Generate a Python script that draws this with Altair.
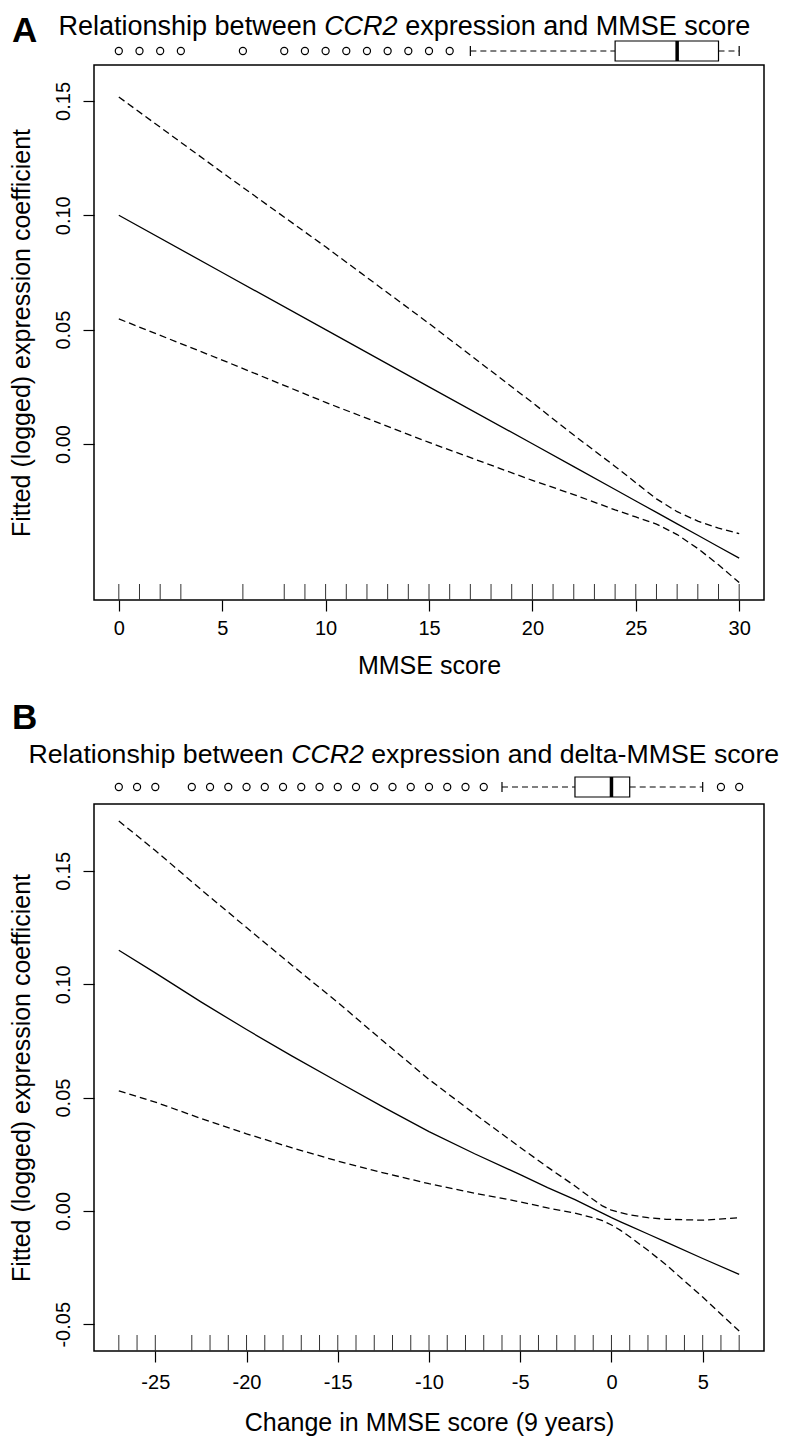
import altair as alt
import pandas as pd

FONT = "Liberation Sans"

# ---------------- Panel A : MMSE score ----------------
a_x     = [0, 5, 10, 15, 20, 22, 24, 25, 26, 27, 28, 29, 30]
a_fit   = [0.1000, 0.0750, 0.0500, 0.0250, 0.0001, -0.0099, -0.0199, -0.0249, -0.0299, -0.0349, -0.0399, -0.0449, -0.0499]
a_upper = [0.1517, 0.1187, 0.0862, 0.0527, 0.0181, 0.0039, -0.0098, -0.0169, -0.0240, -0.0296, -0.0337, -0.0368, -0.0392]
a_lower = [0.0547, 0.0367, 0.0182, 0.0007, -0.0159, -0.0221, -0.0288, -0.0319, -0.0350, -0.0396, -0.0457, -0.0528, -0.0606]
a_rug = [0, 1, 2, 3, 6, 8, 9, 10, 11, 12, 13, 14, 15, 16, 17, 18, 19, 20,
         21, 22, 23, 24, 25, 26, 27, 28, 29, 30]
a_outliers = [0, 1, 2, 3, 6, 8, 9, 10, 11, 12, 13, 14, 15, 16]
a_box = [17, 24, 27, 29, 30]          # whisker low, Q1, median, Q3, whisker high
a_xticks = [0, 5, 10, 15, 20, 25, 30]
a_yticks = [0.0, 0.05, 0.10, 0.15]

# ---------------- Panel B : change in MMSE ----------------
b_x     = [-27, -25, -22.5, -20, -17.5, -15, -12.5, -10, -7.5, -5, -3.5, -2, -1, -0.5,
           0, 0.5, 1, 2, 3, 5, 7]
b_fit   = [0.115, 0.105, 0.0922, 0.080, 0.0683, 0.057, 0.0458, 0.035, 0.0252, 0.016, 0.0103,
           0.005, 0.001, -0.001, -0.003, -0.0048, -0.0066, -0.0102, -0.0138, -0.021, -0.028]
b_upper = [0.172, 0.159, 0.1418, 0.125, 0.1083, 0.092, 0.0748, 0.058, 0.0428, 0.028, 0.0193,
           0.011, 0.005, 0.0022, 0.0003, -0.0008, -0.0017, -0.003, -0.0037, -0.0041, -0.003]
b_lower = [0.053, 0.048, 0.0408, 0.034, 0.0278, 0.022, 0.0168, 0.012, 0.0078, 0.004, 0.0013,
           -0.001, -0.003, -0.0043, -0.0062, -0.0086, -0.0114, -0.0174, -0.0238, -0.038, -0.053]
b_rug = [-27, -26, -25, -23, -22, -21, -20, -19, -18, -17, -16, -15, -14, -13,
         -12, -11, -10, -9, -8, -7, -6, -5, -4, -3, -2, -1, 0, 1, 2, 3, 4, 5, 6, 7]
b_outliers = [-27, -26, -25, -23, -22, -21, -20, -19, -18, -17, -16, -15, -14,
              -13, -12, -11, -10, -9, -8, -7, 6, 7]
b_box = [-6, -2, 0, 1, 5]
b_xticks = [-25, -20, -15, -10, -5, 0, 5]
b_yticks = [-0.05, 0.0, 0.05, 0.10, 0.15]

Y_TITLE = "Fitted (logged) expression coefficient"

ARIAL = {' ': 278, 'R': 722, 'e': 556, 'l': 222, 'a': 556, 't': 278, 'i': 222,
         'o': 556, 'n': 556, 's': 500, 'h': 556, 'p': 556, 'b': 556, 'w': 722,
         'C': 722, '2': 556, 'x': 500, 'r': 333, 'd': 556, 'M': 833, 'S': 667,
         'E': 667, 'c': 500, '-': 333}


def tw(s, size):
    return sum(ARIAL.get(c, 556) for c in s) * size / 1000.0


def txt(s, x, y, size, style="normal", weight="normal"):
    return alt.Chart(pd.DataFrame({"t": [s]})).mark_text(
        align="left", baseline="alphabetic", font=FONT, fontSize=size,
        fontStyle=style, fontWeight=weight, color="black"
    ).encode(text="t:N", x=alt.value(x), y=alt.value(y))


def panel(letter, parts, title_x, title_y, title_size, letter_x, letter_y,
          xs, fit, up, lo, rug, outl, box, xdom, ydom, xticks, yticks,
          xtitle, w, h, ytitle_x, box_y, xlab_pad, xtitle_pad):
    xscale = alt.Scale(domain=xdom, nice=False, zero=False)
    yscale = alt.Scale(domain=ydom, nice=False, zero=False)
    num_expr = "datum.value < 0 ? '-' + format(-datum.value, '{f}') : format(datum.value, '{f}')"
    xaxis = alt.Axis(values=xticks, tickSize=11, tickColor="black", tickWidth=1.2,
                     labelFont=FONT, labelFontSize=20, labelColor="black",
                     labelPadding=xlab_pad, labelExpr=num_expr.format(f="d"),
                     labelFlush=False, labelOverlap=False,
                     titleFont=FONT, titleFontSize=25, titleFontWeight="normal",
                     titleColor="black", titlePadding=xtitle_pad, domain=False, grid=False)
    yaxis = alt.Axis(values=yticks, tickSize=11, tickColor="black", tickWidth=1.2,
                     labelFont=FONT, labelFontSize=20, labelColor="black",
                     labelAngle=270, labelAlign="center", labelBaseline="bottom",
                     labelPadding=10, labelExpr=num_expr.format(f=".2f"),
                     labelFlush=False, labelOverlap=False,
                     titleFont=FONT, titleFontSize=25, titleFontWeight="normal",
                     titleColor="black", titleAngle=270, titleAlign="center",
                     titleBaseline="alphabetic", titleX=ytitle_x, titleY=h / 2,
                     domain=False, grid=False)

    def X(field):
        return alt.X(field, type="quantitative", scale=xscale, axis=xaxis, title=xtitle)

    def Y(field):
        return alt.Y(field, type="quantitative", scale=yscale, axis=yaxis, title=Y_TITLE)

    curves = pd.DataFrame({"x": xs, "fit": fit, "upper": up, "lower": lo})
    base = alt.Chart(curves)
    layers = [
        base.mark_line(color="black", strokeWidth=1.3).encode(x=X("x"), y=Y("fit")),
        base.mark_line(color="black", strokeWidth=1.3, strokeDash=[7, 4]).encode(
            x=X("x"), y=Y("upper")),
        base.mark_line(color="black", strokeWidth=1.3, strokeDash=[7, 4]).encode(
            x=X("x"), y=Y("lower")),
        # rug
        alt.Chart(pd.DataFrame({"r": rug})).mark_rule(color="#333333", strokeWidth=1).encode(
            x=X("r"), y=alt.value(h - 16), y2=alt.value(h)),
    ]
    lo_w, q1, med, q3, hi_w = box
    # horizontal boxplot above the panel
    layers += [
        alt.Chart(pd.DataFrame({"a": [lo_w, q3], "b": [q1, hi_w]})).mark_rule(
            color="black", strokeWidth=1.2, strokeDash=[6, 4]).encode(
            x=X("a"), x2="b:Q", y=alt.value(box_y)),
        alt.Chart(pd.DataFrame({"c": [lo_w, hi_w]})).mark_rule(
            color="black", strokeWidth=1.2).encode(
            x=X("c"), y=alt.value(box_y - 5), y2=alt.value(box_y + 5)),
        alt.Chart(pd.DataFrame({"q1": [q1], "q3": [q3]})).mark_rect(
            fill="white", stroke="black", strokeWidth=1.2).encode(
            x=X("q1"), x2="q3:Q", y=alt.value(box_y - 10), y2=alt.value(box_y + 10)),
        alt.Chart(pd.DataFrame({"m": [med]})).mark_rule(
            color="black", strokeWidth=3.5).encode(
            x=X("m"), y=alt.value(box_y - 10), y2=alt.value(box_y + 10)),
        alt.Chart(pd.DataFrame({"o": outl})).mark_point(
            shape="circle", filled=False, size=50, color="black", strokeWidth=1.2,
            opacity=1).encode(x=X("o"), y=alt.value(box_y)),
    ]
    # panel letter and title (title with italic gene name)
    layers.append(txt(letter, letter_x, letter_y, 35, weight="bold"))
    cx = title_x
    for s, italic in parts:
        lead = len(s) - len(s.lstrip(" "))
        layers.append(txt(s.strip(" "), cx + tw(" " * lead, title_size), title_y,
                          title_size, style="italic" if italic else "normal"))
        cx += tw(s, title_size)
    return alt.layer(*layers).properties(width=w, height=h)


pA = panel("A",
           [("Relationship between ", False), ("CCR2", True),
            (" expression and MMSE score", False)],
           -35.5, -30.5, 27, -82, -23,
           a_x, a_fit, a_upper, a_lower, a_rug, a_outliers, a_box,
           [-1.2, 31.2], [-0.0682, 0.1657], a_xticks, a_yticks,
           "MMSE score", 670, 535, -65, -14, 7, 15)

pB = panel("B",
           [("Relationship between ", False), ("CCR2", True),
            (" expression and delta-MMSE score", False)],
           -65.5, -41, 26.7, -82, -75,
           b_x, b_fit, b_upper, b_lower, b_rug, b_outliers, b_box,
           [-28.36, 8.36], [-0.0618, 0.1795], b_xticks, b_yticks,
           "Change in MMSE score (9 years)", 670, 547, -65, -17, 10, 18)

chart = alt.concat(pA, pB, columns=1, spacing=21).properties(
    padding={"top": 3, "left": 0, "right": 0, "bottom": 0}, background="white"
).configure_view(stroke="black", strokeWidth=1.5)

chart.save("out.html", embed_options={"renderer": "svg", "actions": False})
